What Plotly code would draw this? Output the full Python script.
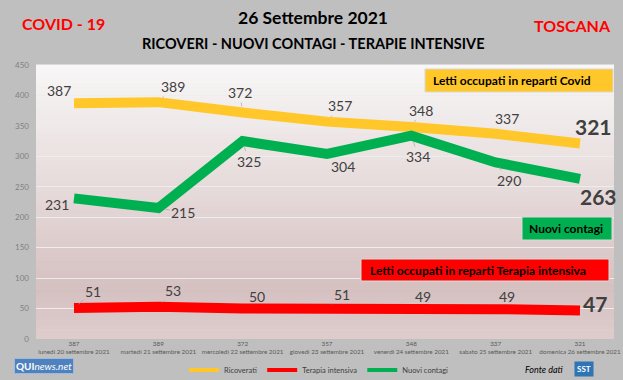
import plotly.graph_objects as go

# ---------------- data ----------------
dates = ["lunedì 20 settembre 2021", "martedì 21 settembre 2021",
         "mercoledì 22 settembre 2021", "giovedì 23 settembre 2021",
         "venerdì 24 settembre 2021", "sabato 25 settembre 2021",
         "domenica 26 settembre 2021"]
ricoverati = [387, 389, 372, 357, 348, 337, 321]
terapia = [51, 53, 50, 51, 49, 49, 47]
contagi = [231, 215, 325, 304, 334, 290, 263]
y_ticks = [0, 50, 100, 150, 200, 250, 300, 350, 400, 450]

# ---------------- style ----------------
W, H = 623, 380
PL, PR, PT, PB = 36, 614, 65, 339   # plot area in pixels
FONT = "Lato"
YEL, RED, GRN = "#FFC729", "#FF0000", "#00B050"
LBL = "#404040"

# label offsets (px) per series
off_ric = [(-15, -13), (15, -16), (-3, -20), (13, -16), (10, -17), (11, -15), (13, -17)]
off_con = [(-17, 6), (25, 4), (6, 20), (16, 13), (7, 21), (13, 18), (18, 18)]
off_ter = [(19, -16), (15, -16), (14, -12), (15, -13), (12, -13), (11, -13), (15, -7)]


def px(x):
    return (x - PL) / (PR - PL)


def py(y):
    return (PB - y) / (PB - PT)


xs = list(range(len(dates)))
ticktext = [f"{v}<br>{d}" for v, d in zip(ricoverati, dates)]

fig = go.Figure()
for name, vals, col in [("Ricoverati", ricoverati, YEL),
                        ("Terapia intensiva", terapia, RED),
                        ("Nuovi contagi", contagi, GRN)]:
    fig.add_trace(go.Scatter(x=xs, y=vals, mode="lines", name=name,
                             line=dict(color=col, width=10), showlegend=False,
                             hoverinfo="skip"))
# legend entries (thin)
for name, col in [("Ricoverati", YEL), ("Terapia intensiva", RED), ("Nuovi contagi", GRN)]:
    fig.add_trace(go.Scatter(x=[None], y=[None], mode="lines", name=name,
                             line=dict(color=col, width=4)))

annotations = []
for vals, offs in [(ricoverati, off_ric), (contagi, off_con), (terapia, off_ter)]:
    n = len(vals)
    for i, (v, (dx, dy)) in enumerate(zip(vals, offs)):
        last = i == n - 1
        annotations.append(dict(
            x=xs[i], y=v, xref="x", yref="y", ax=dx, ay=dy,
            text=f"<b>{v}</b>" if last else str(v),
            font=dict(family=FONT, size=21 if last else 14, color=LBL),
            showarrow=True, arrowhead=0, arrowwidth=0.7, arrowcolor="#A6A6A6",
            standoff=6))

# coloured boxes with text
boxes = [
    (425, 613, 69, 92, YEL, "Letti occupati in reparti Covid", 512),
    (522, 612, 217, 240, GRN, "Nuovi contagi", 566),
    (361, 609, 259, 281, RED, "Letti occupati in reparti Terapia intensiva", 478),
]
shapes = []
# gradient background of plot area
stops = [(0.0, (248, 247, 247)), (0.5, (228, 215, 215)), (0.82, (213, 192, 192)), (1.0, (222, 205, 205))]


def grad(t):
    for (t0, c0), (t1, c1) in zip(stops[:-1], stops[1:]):
        if t0 <= t <= t1:
            f = (t - t0) / (t1 - t0)
            return "rgb(%d,%d,%d)" % tuple(round(a + (b - a) * f) for a, b in zip(c0, c1))
    return "rgb(%d,%d,%d)" % stops[-1][1]


N = 60
for k in range(N):
    t = (k + 0.5) / N
    shapes.append(dict(type="rect", xref="paper", yref="paper", x0=0, x1=1,
                       y0=1 - (k + 1) / N, y1=1 - k / N + 0.002,
                       fillcolor=grad(t), line=dict(width=0), layer="below"))


def note(x, y, text, size, color, xa="center", **kw):
    return dict(x=px(x), y=py(y), xref="paper", yref="paper", text=text,
                showarrow=False, xanchor=xa, yanchor="middle",
                font=dict(family=FONT, size=size, color=color), **kw)


for x0, x1, y0, y1, col, txt, cx in boxes:
    shapes.append(dict(type="rect", xref="paper", yref="paper",
                       x0=px(x0), x1=px(x1), y0=py(y1), y1=py(y0),
                       fillcolor=col, line=dict(color="#D9D9D9", width=1), layer="above"))
    annotations.append(note(cx, (y0 + y1) / 2, f"<b>{txt}</b>", 12, "#000000"))

# titles and footer
annotations += [
    note(313, 18, "<b>26 Settembre 2021</b>", 17.5, "#000000"),
    note(313, 43, "<b>RICOVERI - NUOVI CONTAGI - TERAPIE INTENSIVE</b>", 14.5, "#000000"),
    note(63, 23, "<b>COVID - 19</b>", 16, "#FF0000"),
    note(613, 26, "<b>TOSCANA</b>", 16, "#FF0000", xa="right"),
    note(44, 366, "<b>QUI</b><i>news.net</i>", 10, "#FFFFFF", bgcolor="#4F81BD",
         bordercolor="#9DB9DE", borderwidth=1, borderpad=1),
    note(566, 369, "<i>Fonte dati</i>", 9, "#000000", xa="right"),
    note(584, 369, "<b>SST</b>", 8, "#FFFFFF", bgcolor="#2E75B6", borderpad=2),
]

# x mapping: first point at 74 px, last at 580 px
step = (580 - 74) / (len(xs) - 1)
xr = [(PL - 74) / step, (PR - 74) / step]

fig.update_layout(
    width=W, height=H,
    margin=dict(l=PL, r=W - PR, t=PT, b=H - PB, autoexpand=False),
    paper_bgcolor="#BFBFBF", plot_bgcolor="#F0E8E8",
    font=dict(family=FONT, color="#595959"),
    xaxis=dict(range=xr, tickmode="array", tickvals=xs, ticktext=ticktext,
               showgrid=False, zeroline=False, showline=False, ticks="",
               tickangle=0, automargin=False,
               tickfont=dict(size=6.3, color="#595959"), fixedrange=True),
    yaxis=dict(range=[0, 450], tickmode="array", tickvals=y_ticks,
               showgrid=True, gridcolor="#EDEDED", gridwidth=1, zeroline=False,
               showline=False, ticks="", ticklabelstandoff=6, automargin=False,
               tickfont=dict(size=8, color="#7F7F7F"), fixedrange=True),
    legend=dict(orientation="h", x=px(184), y=py(370), xanchor="left", yanchor="middle",
                bgcolor="rgba(0,0,0,0)", font=dict(size=7.5, color="#404040"),
                itemwidth=30, tracegroupgap=0),
    shapes=shapes, annotations=annotations,
)

fig.write_html("out.html", config={"displayModeBar": False},
               post_script="document.body.style.margin='0';document.body.style.overflow='hidden';")
